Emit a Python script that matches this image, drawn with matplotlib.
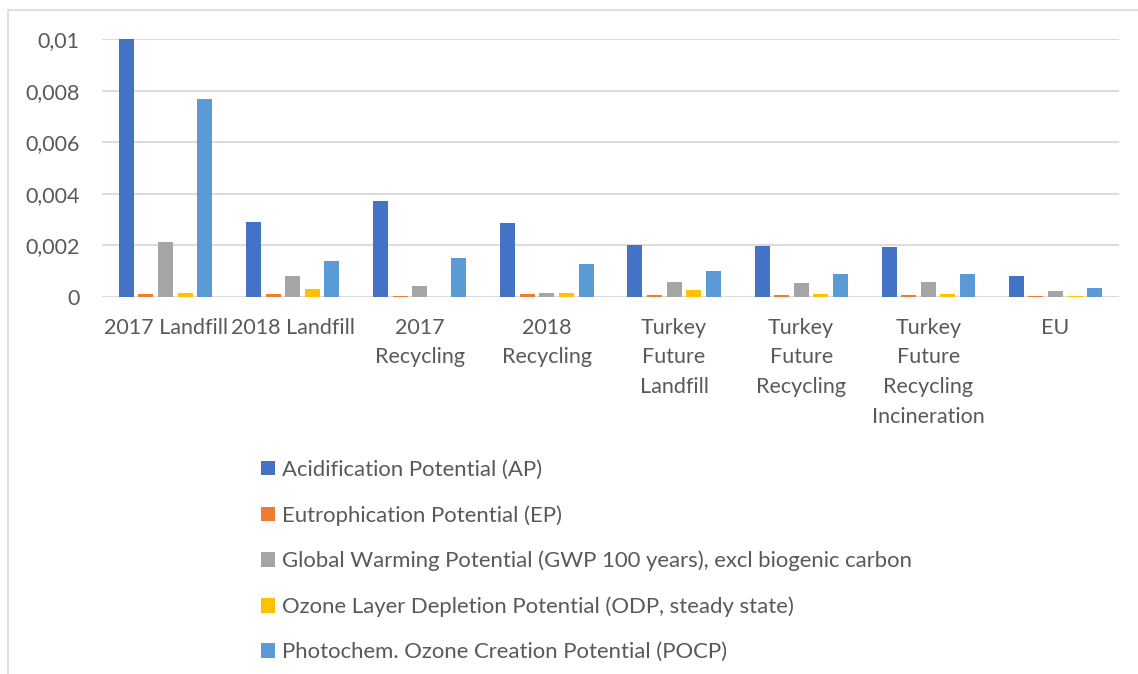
import numpy as np
import matplotlib.pyplot as plt
from matplotlib.ticker import FixedLocator
from matplotlib.patches import Rectangle

plt.rcParams['font.family'] = ['Lato', 'DejaVu Sans']

categories = ['2017 Landfill', '2018 Landfill', '2017\nRecycling', '2018\nRecycling',
              'Turkey\nFuture\nLandfill', 'Turkey\nFuture\nRecycling',
              'Turkey\nFuture\nRecycling\nIncineration', 'EU']
series = ['Acidification Potential (AP)',
          'Eutrophication Potential (EP)',
          'Global Warming Potential (GWP 100 years), excl biogenic carbon',
          'Ozone Layer Depletion Potential (ODP, steady state)',
          'Photochem. Ozone Creation Potential (POCP)']
ap = [0.0100, 0.00290, 0.00373, 0.00286, 0.00203, 0.00198, 0.00194, 0.00080]
ep = [0.00012, 0.00010, 0.00003, 0.00010, 0.00008, 0.00007, 0.00008, 0.00002]
gwp = [0.00214, 0.00081, 0.00043, 0.00014, 0.00058, 0.00053, 0.00057, 0.00022]
odp = [0.00014, 0.00030, 0.00001, 0.00014, 0.00027, 0.00010, 0.00010, 0.00002]
pocp = [0.00767, 0.00138, 0.00152, 0.00129, 0.00101, 0.00090, 0.00089, 0.00036]
colors = ['#4472C4', '#ED7D31', '#A5A5A5', '#FFC000', '#5B9BD5']

fig = plt.figure(figsize=(11.38, 6.74), dpi=100)
ax = fig.add_axes([102/1138, 1 - 297/674, 1017/1138, 258/674])

x = np.arange(len(categories))
step = 0.154
for i, (vals, name) in enumerate(zip([ap, ep, gwp, odp, pocp], series)):
    ax.bar(x + (i - 2) * step, vals, width=0.118, color=colors[i], label=name,
           zorder=3, clip_on=True)

ax.set_xlim(-0.5, len(categories) - 0.5)
ax.set_ylim(0, 0.01)
ticks = [0, 0.002, 0.004, 0.006, 0.008, 0.01]
ax.yaxis.set_major_locator(FixedLocator(ticks))
ax.set_yticklabels(['0', '0,002', '0,004', '0,006', '0,008', '0,01'])
ax.set_xticks(x)
ax.set_xticklabels(categories, linespacing=1.6, va='top')
ax.tick_params(axis='both', length=0, labelsize=15.5, colors='#595959')
ax.tick_params(axis='y', pad=16)
ax.tick_params(axis='x', pad=15)
ax.grid(axis='y', color='#D9D9D9', linewidth=1.3, zorder=0)
for s in ax.spines.values():
    s.set_visible(False)

# chart area border
fig.patches.append(Rectangle((8/1138, -0.1), 1.2, 1.1 - 10/674, transform=fig.transFigure,
                             fill=False, edgecolor='#D9D9D9', linewidth=1.2))

fig.legend(loc='upper left', bbox_to_anchor=(252/1138, 1 - 451/674), frameon=False,
           fontsize=15.9, labelcolor='#595959', handlelength=0.62, handleheight=0.62,
           handletextpad=0.32, labelspacing=1.14, borderaxespad=0)

fig.savefig('out.png', dpi=100)
